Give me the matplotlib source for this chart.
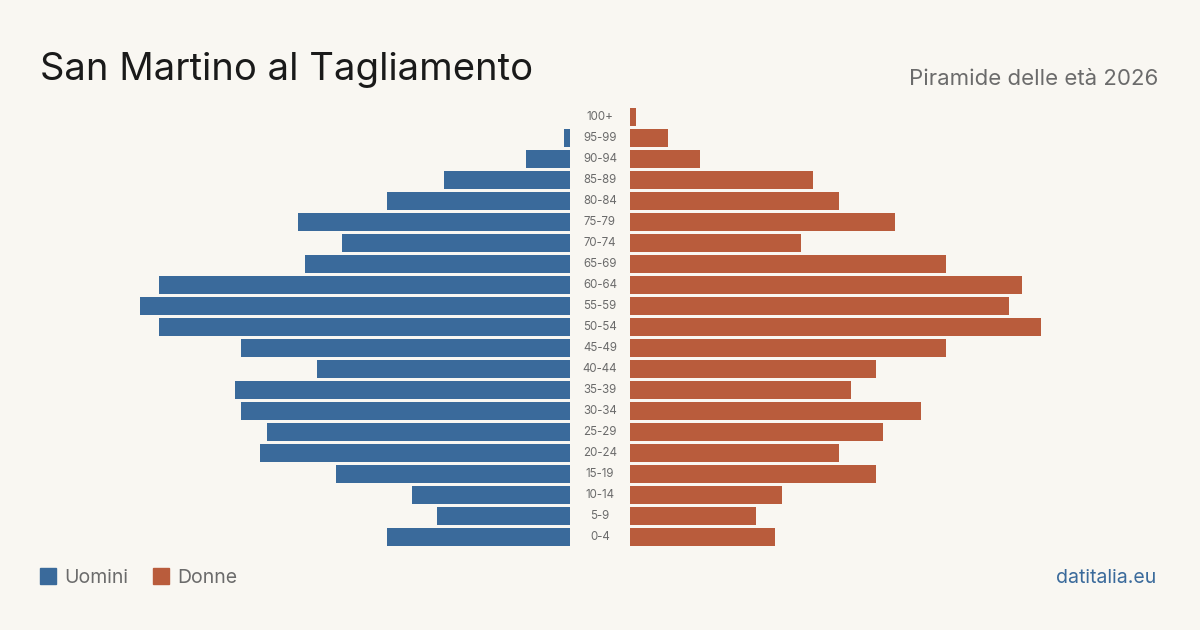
import matplotlib
matplotlib.use("Agg")
import matplotlib.pyplot as plt
from matplotlib.patches import Rectangle

plt.rcParams['font.family'] = ['Inter', 'DejaVu Sans']

age_groups = ["0-4", "5-9", "10-14", "15-19", "20-24", "25-29", "30-34", "35-39",
              "40-44", "45-49", "50-54", "55-59", "60-64", "65-69", "70-74", "75-79",
              "80-84", "85-89", "90-94", "95-99", "100+"]
men = [29, 21, 25, 37, 49, 48, 52, 53, 40, 52, 65, 68, 65, 42, 36, 43, 29, 20, 7, 1, 0]
women = [23, 20, 24, 39, 33, 40, 46, 35, 39, 50, 65, 60, 62, 50, 27, 42, 33, 29, 11, 6, 1]

title = "San Martino al Tagliamento"
subtitle = "Piramide delle età 2026"
legend_labels = ["Uomini", "Donne"]
source = "datitalia.eu"

BG = "#f9f7f2"
BLUE = "#3a6a9b"
ORANGE = "#b95c3c"
GREY = "#6b6b6b"

W, H = 1200, 630
fig = plt.figure(figsize=(W / 100, H / 100), dpi=100, facecolor=BG)

px_per_unit = 6.32
span = 470 / px_per_unit
bottom = (H - 547.5) / H
height = 441 / H

ax_l = fig.add_axes([100 / W, bottom, 470 / W, height])
ax_r = fig.add_axes([630 / W, bottom, 470 / W, height])

ypos = list(range(len(age_groups)))
ax_l.barh(ypos, men, height=0.81, color=BLUE)
ax_r.barh(ypos, women, height=0.81, color=ORANGE)

ax_l.set_xlim(span, 0)
ax_r.set_xlim(0, span)
for ax in (ax_l, ax_r):
    ax.set_ylim(-0.5, len(age_groups) - 0.5)
    ax.set_facecolor("none")
    ax.axis("off")

# age labels in the middle gap
for y, lab in zip(ypos, age_groups):
    ax_r.text(-30 / px_per_unit, y, lab, ha="center", va="center",
              fontsize=8.3, color=GREY)

fig.text(40 / W, 1 - 80 / H, title, fontsize=27.5, color="#1a1a1a",
         ha="left", va="baseline")
fig.text(1158 / W, 1 - 85 / H, subtitle, fontsize=16, color=GREY,
         ha="right", va="baseline")

# legend
for x0, lab, col in [(40, legend_labels[0], BLUE), (153, legend_labels[1], ORANGE)]:
    fig.patches.append(Rectangle((x0 / W, 1 - 584 / H), 16 / W, 16 / H,
                                 transform=fig.transFigure, color=col))
    fig.text((x0 + 24) / W, 1 - 583 / H, lab, fontsize=14, color=GREY,
             ha="left", va="baseline")

fig.text(1156 / W, 1 - 583 / H, source, fontsize=14, color=BLUE,
         ha="right", va="baseline")

fig.savefig("out.png", dpi=100, facecolor=BG)
